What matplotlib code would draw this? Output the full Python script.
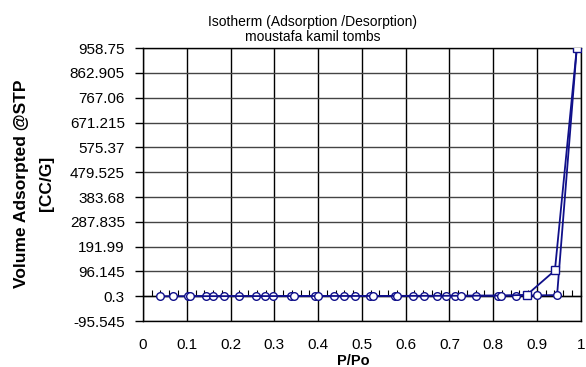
import numpy as np
import matplotlib.pyplot as plt

plt.rcParams['font.family'] = ['Liberation Sans', 'DejaVu Sans']

# adsorption branch (circles)
p_ads = [0.039, 0.069, 0.103, 0.143, 0.160, 0.185, 0.219, 0.259, 0.279, 0.297,
         0.339, 0.394, 0.436, 0.459, 0.484, 0.518, 0.575, 0.617, 0.642, 0.672,
         0.693, 0.712, 0.760, 0.811, 0.853, 0.899, 0.946, 0.991]
v_ads = [0.5, 0.6, 0.7, 0.8, 0.9, 1.0, 1.0, 1.1, 1.2, 1.2,
         1.3, 1.4, 1.5, 1.6, 1.6, 1.7, 1.8, 1.9, 2.0, 2.1,
         2.2, 2.3, 2.5, 2.8, 3.2, 3.9, 5.0, 958.75]

# desorption branch (squares)
p_des = [0.991, 0.941, 0.877]
v_des = [958.75, 100.0, 6.0]

# extra desorption points along the baseline (drawn with circles)
p_des_low = [0.877, 0.819, 0.726, 0.581, 0.526, 0.400, 0.344, 0.108]
v_des_low = [6.0, 2.9, 2.4, 1.9, 1.7, 1.5, 1.3, 0.8]

yticks = [-95.545, 0.3, 96.145, 191.99, 287.835, 383.68, 479.525,
          575.37, 671.215, 767.06, 862.905, 958.75]
ytick_labels = ['-95.545', '0.3', '96.145', '191.99', '287.835', '383.68',
                '479.525', '575.37', '671.215', '767.06', '862.905', '958.75']
xticks = [0, 0.1, 0.2, 0.3, 0.4, 0.5, 0.6, 0.7, 0.8, 0.9, 1]
xtick_labels = ['0', '0.1', '0.2', '0.3', '0.4', '0.5', '0.6', '0.7', '0.8', '0.9', '1']

navy = '#10108a'
pos = [0.244, 0.125, 0.747, 0.744]

fig = plt.figure(figsize=(5.86, 3.67), dpi=100)
ax = fig.add_axes(pos)

ax.set_xlim(0, 1)
ax.set_ylim(yticks[0], yticks[-1])
ax.set_xticks(xticks)
ax.set_xticklabels(xtick_labels)
ax.set_yticks(yticks)
ax.set_yticklabels(ytick_labels)
ax.tick_params(axis='both', labelsize=11)
ax.tick_params(axis='y', length=6, width=1, direction='out', pad=7)
ax.tick_params(axis='x', length=0, pad=12)

ax.grid(axis='x', color='black', lw=1)
ax.grid(axis='y', color='#444444', lw=1)
ax.set_axisbelow(True)
for s in ax.spines.values():
    s.set_color('black')
    s.set_linewidth(1)

# overlay axes: x axis crossing at 0.3 with small ticks
ax2 = fig.add_axes(pos)
ax2.set_xlim(0, 1)
ax2.set_ylim(yticks[0], yticks[-1])
ax2.patch.set_visible(False)
for k in ['top', 'right', 'left']:
    ax2.spines[k].set_visible(False)
ax2.spines['bottom'].set_position(('data', 0.3))
ax2.spines['bottom'].set_linewidth(1)
ax2.set_xticks(np.arange(0, 1.001, 0.02))
ax2.tick_params(axis='x', direction='in', length=4, width=0.8,
                color='black', labelbottom=False)
ax2.set_yticks([])

ax2.plot(p_ads, v_ads, color=navy, lw=1.3, marker='o', ms=5.5,
         mfc='white', mec=navy, mew=1.0, zorder=3)
ax2.plot(p_des_low, v_des_low, color=navy, lw=1.3, marker='o', ms=5.5,
         mfc='white', mec=navy, mew=1.0, zorder=3)
ax2.plot(p_des, v_des, color=navy, lw=1.3, marker='s', ms=5.5,
         mfc='white', mec=navy, mew=1.0, zorder=4)

fig.text(0.603, 0.016, 'P/Po', ha='center', va='center', fontsize=10.5,
         fontweight='bold')
fig.text(0.058, 0.5, 'Volume Adsorpted @STP\n[CC/G]', rotation=90,
         ha='center', va='center', fontsize=12.5, fontweight='bold',
         multialignment='center', linespacing=1.85)
fig.text(0.534, 0.92, 'Isotherm (Adsorption /Desorption)\nmoustafa kamil tombs',
         ha='center', va='center', fontsize=10, linespacing=1.05)

fig.savefig('out.png', dpi=100)
